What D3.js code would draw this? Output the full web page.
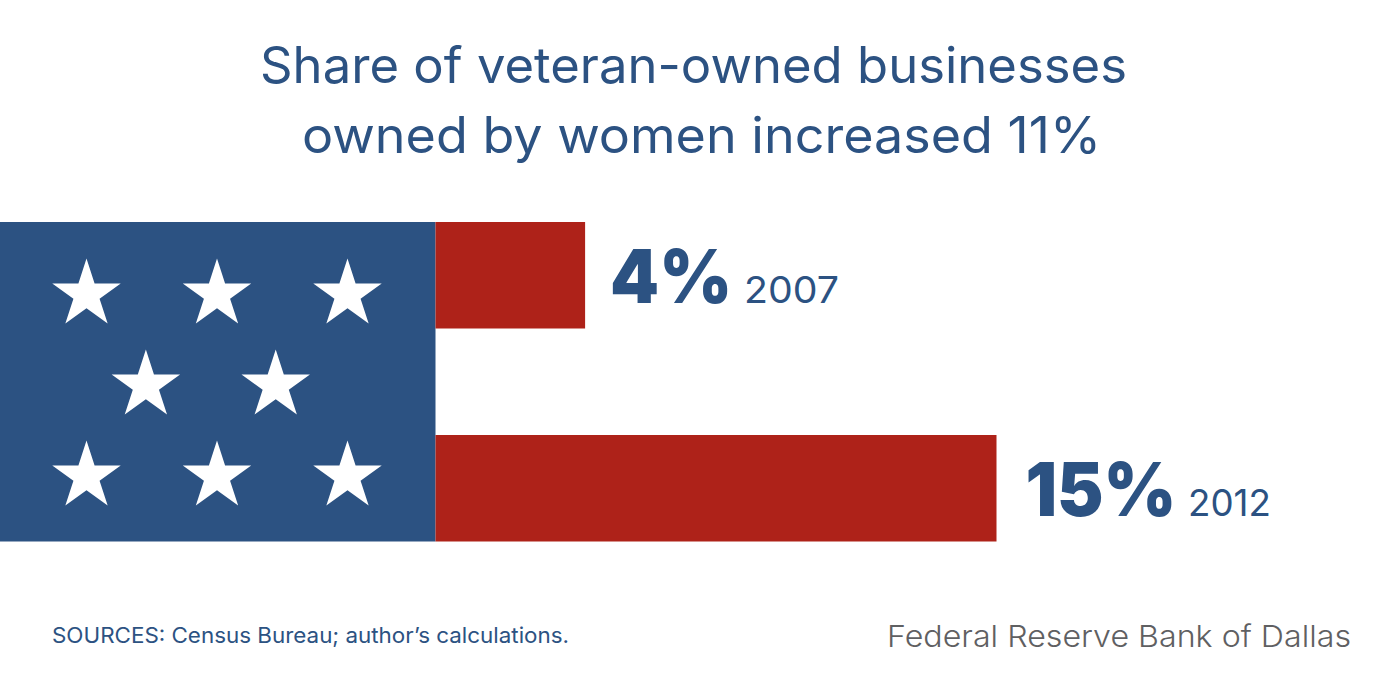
<!DOCTYPE html>
<html><head><meta charset="utf-8">
<script src="https://cdn.jsdelivr.net/npm/d3@7"></script>
<style>html,body{margin:0;padding:0;background:#fff}svg{display:block}text{font-family:Inter,"Open Sans",sans-serif}</style>
</head><body><svg id="c" width="1400" height="675"></svg>
<script>
const titleLines=["Share of veteran-owned businesses","owned by women increased 11%"];
const years=["2007","2012"];
const values=[4,15];
const valueLabels=["4%","15%"];
const starRows=[[0,1,2],[0.455,1.45],[0,1,2]];
const source="SOURCES: Census Bureau; author’s calculations.";
const credit="Federal Reserve Bank of Dallas";
const blue="#2c5282",red="#ae2219";
const svg=d3.select("#c");
const x=d3.scaleLinear().domain([0,15]).range([435.5,996.5]);
const bh=106.5;
const yTop=d3.scalePoint().domain(years).range([222,435]);
svg.append("g").selectAll("text").data(titleLines).join("text")
 .attr("x",(d,i)=>[260,302][i]).attr("y",(d,i)=>[83,153][i])
 .attr("font-size",50).attr("fill",blue).attr("textLength",(d,i)=>[867,799][i]).attr("lengthAdjust","spacingAndGlyphs").text(d=>d);
svg.append("rect").attr("x",0).attr("y",222).attr("width",435.5).attr("height",319.5).attr("fill",blue);
svg.append("g").selectAll("rect").data(years).join("rect")
 .attr("x",x(0)).attr("y",d=>yTop(d)).attr("width",(d,i)=>x(values[i])-x(0)).attr("height",bh).attr("fill",red);
const sx=d3.scaleLinear().domain([0,2]).range([86.5,347.5]);
const sy=d3.scalePoint().domain([0,1,2]).range([294.5,476.5]);
const star=d3.symbol().type(d3.symbolStar).size(1454);
starRows.forEach((r,ri)=>{svg.append("g").selectAll("path").data(r).join("path")
 .attr("d",star).attr("fill","#fff").attr("transform",d=>`translate(${sx(d)},${sy(ri)})`);});
const lab=svg.append("g").selectAll("g").data(years).join("g");
lab.append("text").attr("x",(d,i)=>x(values[i])+[25,29][i]).attr("y",(d,i)=>yTop(d)+81)
 .attr("font-size",74).attr("font-weight",900).attr("fill",blue).attr("textLength",(d,i)=>[122,151][i]).attr("lengthAdjust","spacingAndGlyphs").text((d,i)=>valueLabels[i]);
lab.append("text").attr("x",(d,i)=>[744,1188][i]).attr("y",(d,i)=>yTop(d)+81)
 .attr("font-size",37).attr("fill",blue).attr("textLength",(d,i)=>[95,83][i]).attr("lengthAdjust","spacingAndGlyphs").text(d=>d);
svg.append("text").attr("x",52).attr("y",643).attr("font-size",21.5).attr("fill",blue).attr("textLength",517).attr("lengthAdjust","spacingAndGlyphs").text(source);
svg.append("text").attr("x",887).attr("y",647).attr("font-size",30).attr("font-weight",300).attr("fill","#5f6062").attr("textLength",464).attr("lengthAdjust","spacingAndGlyphs").text(credit);
</script></body></html>
